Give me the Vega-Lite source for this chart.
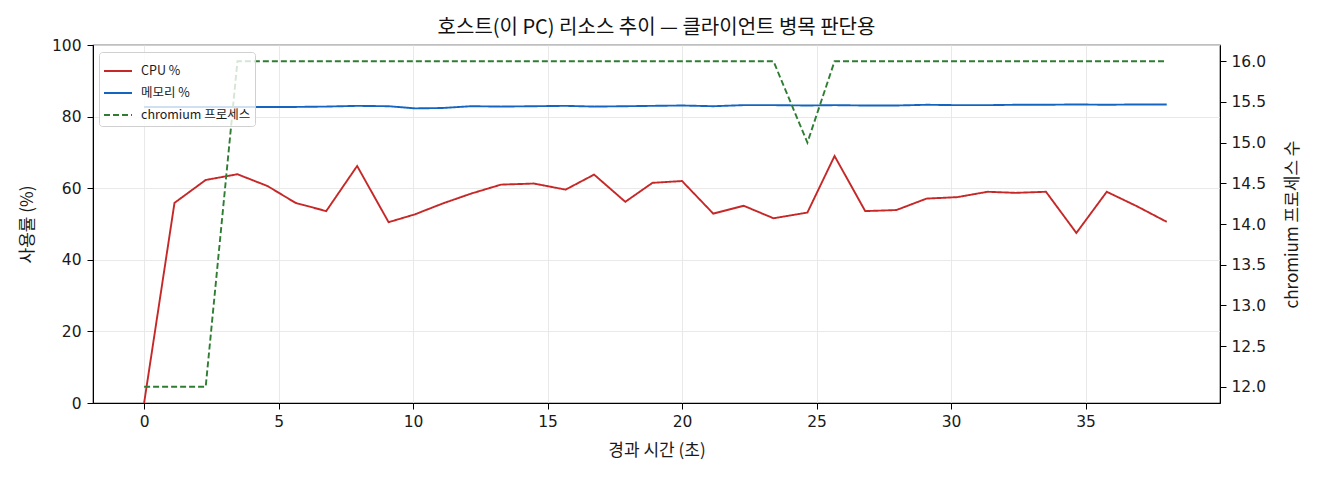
{
  "$schema": "https://vega.github.io/schema/vega-lite/v6.json",
  "autosize": "none",
  "width": 1127,
  "height": 358,
  "padding": {"left": 93, "top": 45, "right": 100, "bottom": 77},
  "background": "white",
  "config": {
    "font": "Noto Sans CJK KR",
    "view": {"stroke": "black", "strokeWidth": 1.2},
    "axis": {
      "labelFont": "DejaVu Sans",
      "titleFont": "Noto Sans CJK KR",
      "labelFontSize": 15.5,
      "titleFontSize": 17,
      "titleFontWeight": "normal",
      "labelColor": "#1a1a1a",
      "titleColor": "#1a1a1a",
      "domainColor": "black",
      "tickColor": "black",
      "tickSize": 6,
      "labelPadding": 5,
      "gridColor": "#e6e6e6",
      "gridWidth": 0.9
    }
  },
  "title": {
    "text": "호스트(이 PC) 리소스 추이 — 클라이언트 병목 판단용",
    "fontSize": 20,
    "fontWeight": "normal",
    "font": "Noto Sans CJK KR",
    "color": "#111111",
    "offset": 0
  },
  "data": {
    "values": [
      {"t": 0.0, "cpu": 0.0, "mem": 82.7, "proc": 12},
      {"t": 1.13, "cpu": 55.9, "mem": 82.7, "proc": 12},
      {"t": 2.29, "cpu": 62.3, "mem": 82.7, "proc": 12},
      {"t": 3.47, "cpu": 63.9, "mem": 82.7, "proc": 16},
      {"t": 4.59, "cpu": 60.6, "mem": 82.7, "proc": 16},
      {"t": 5.63, "cpu": 55.9, "mem": 82.7, "proc": 16},
      {"t": 6.77, "cpu": 53.6, "mem": 82.8, "proc": 16},
      {"t": 7.92, "cpu": 66.2, "mem": 83.0, "proc": 16},
      {"t": 9.09, "cpu": 50.5, "mem": 82.9, "proc": 16},
      {"t": 10.07, "cpu": 52.7, "mem": 82.3, "proc": 16},
      {"t": 11.09, "cpu": 55.7, "mem": 82.4, "proc": 16},
      {"t": 12.16, "cpu": 58.5, "mem": 82.9, "proc": 16},
      {"t": 13.27, "cpu": 61.0, "mem": 82.8, "proc": 16},
      {"t": 14.49, "cpu": 61.3, "mem": 82.9, "proc": 16},
      {"t": 15.67, "cpu": 59.6, "mem": 83.0, "proc": 16},
      {"t": 16.73, "cpu": 63.8, "mem": 82.8, "proc": 16},
      {"t": 17.89, "cpu": 56.2, "mem": 82.9, "proc": 16},
      {"t": 18.9, "cpu": 61.5, "mem": 83.0, "proc": 16},
      {"t": 20.0, "cpu": 62.0, "mem": 83.1, "proc": 16},
      {"t": 21.16, "cpu": 52.9, "mem": 82.9, "proc": 16},
      {"t": 22.29, "cpu": 55.1, "mem": 83.2, "proc": 16},
      {"t": 23.4, "cpu": 51.6, "mem": 83.2, "proc": 16},
      {"t": 24.66, "cpu": 53.2, "mem": 83.1, "proc": 15},
      {"t": 25.67, "cpu": 69.0, "mem": 83.2, "proc": 16},
      {"t": 26.81, "cpu": 53.6, "mem": 83.1, "proc": 16},
      {"t": 27.97, "cpu": 53.9, "mem": 83.1, "proc": 16},
      {"t": 29.09, "cpu": 57.1, "mem": 83.3, "proc": 16},
      {"t": 30.23, "cpu": 57.5, "mem": 83.2, "proc": 16},
      {"t": 31.36, "cpu": 59.0, "mem": 83.2, "proc": 16},
      {"t": 32.39, "cpu": 58.7, "mem": 83.3, "proc": 16},
      {"t": 33.53, "cpu": 59.0, "mem": 83.3, "proc": 16},
      {"t": 34.66, "cpu": 47.5, "mem": 83.4, "proc": 16},
      {"t": 35.79, "cpu": 59.0, "mem": 83.3, "proc": 16},
      {"t": 36.9, "cpu": 55.0, "mem": 83.4, "proc": 16},
      {"t": 38.02, "cpu": 50.6, "mem": 83.4, "proc": 16}
    ]
  },
  "transform": [
    {"fold": ["cpu", "mem", "proc"], "as": ["key", "value"]},
    {"lookup": "key", "from": {"data": {"values": [
      {"key": "cpu", "series": "CPU %"},
      {"key": "mem", "series": "메모리 %"},
      {"key": "proc", "series": "chromium 프로세스"}
    ]}, "key": "key", "fields": ["series"]}}
  ],
  "encoding": {
    "x": {
      "field": "t",
      "type": "quantitative",
      "title": "경과 시간 (초)",
      "scale": {"domain": [-1.9, 40.0], "nice": false, "zero": false},
      "axis": {
        "values": [0, 5, 10, 15, 20, 25, 30, 35],
        "grid": true,
        "titleY": 47,
        "titleBaseline": "middle"
      }
    },
    "color": {
      "field": "series",
      "type": "nominal",
      "title": null,
      "scale": {
        "domain": ["CPU %", "메모리 %", "chromium 프로세스"],
        "range": ["#c62828", "#1565c0", "#2e7d32"]
      },
      "legend": {
        "orient": "none",
        "legendX": 6,
        "legendY": 7,
        "symbolType": "stroke",
        "symbolSize": 784,
        "symbolStrokeWidth": 1.8,
        "labelFont": "Noto Sans CJK KR",
        "labelFontSize": 12.5,
        "labelColor": "#1a1a1a",
        "labelOffset": 8,
        "rowPadding": 0,
        "padding": 4,
        "fillColor": "rgba(255,255,255,0.8)",
        "strokeColor": "#d0d0d0",
        "cornerRadius": 3
      }
    },
    "strokeDash": {
      "field": "series",
      "type": "nominal",
      "title": null,
      "scale": {
        "domain": ["CPU %", "메모리 %", "chromium 프로세스"],
        "range": [[1, 0], [1, 0], [6, 3]]
      }
    }
  },
  "layer": [
    {
      "transform": [{"filter": "datum.key !== 'proc'"}],
      "mark": {"type": "line", "strokeWidth": 1.9},
      "encoding": {
        "y": {
          "field": "value",
          "type": "quantitative",
          "title": "사용률 (%)",
          "scale": {"domain": [0, 100], "nice": false},
          "axis": {
            "values": [0, 20, 40, 60, 80, 100],
            "grid": true,
            "orient": "left",
            "labelPadding": 6,
            "titleX": -66,
            "titleY": 179,
            "titleAngle": 270,
            "titleAlign": "center",
            "titleBaseline": "middle"
          }
        }
      }
    },
    {
      "transform": [{"filter": "datum.key === 'proc'"}],
      "mark": {"type": "line", "strokeWidth": 1.9},
      "encoding": {
        "y": {
          "field": "value",
          "type": "quantitative",
          "title": "chromium 프로세스 수",
          "scale": {"domain": [11.8, 16.2], "nice": false, "zero": false},
          "axis": {
            "values": [12, 12.5, 13, 13.5, 14, 14.5, 15, 15.5, 16],
            "format": ".1f",
            "grid": false,
            "orient": "right",
            "titleX": 72,
            "titleY": 179,
            "titleAngle": 270,
            "titleAlign": "center",
            "titleBaseline": "middle"
          }
        }
      }
    }
  ],
  "resolve": {"scale": {"y": "independent"}}
}
